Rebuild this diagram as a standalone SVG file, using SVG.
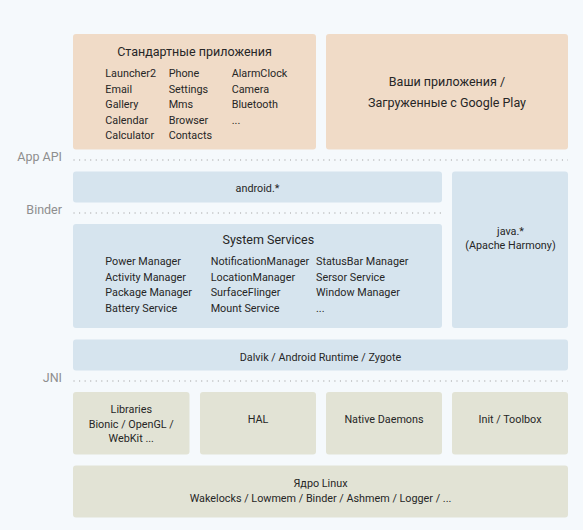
<svg xmlns="http://www.w3.org/2000/svg" width="583" height="530" viewBox="0 0 583 530">
<style>
text{font-family:Roboto,"Liberation Sans",sans-serif;fill:#262626}
.t{font-size:12.5px}
.s{font-size:10.8px}
.c{text-anchor:middle}
.lbl{font-size:12.5px;fill:#8e8e8e;text-anchor:end}
.app{fill:#f0dbc7}
.fw{fill:#d6e4ee}
.nat{fill:#e2e3d5}
.dot{stroke:#a0a0a0;stroke-width:1.1;stroke-dasharray:1.1 4.45;fill:none}
</style>
<rect width="583" height="530" fill="#f5f9fc"/>
<g id="std-apps">
<rect class="app" x="73" y="34" width="243" height="115.5" rx="3"/>
<text class="t c" x="194.5" y="55.5">Стандартные приложения</text>
<text class="s" x="105.3" y="77.3">Launcher2</text>
<text class="s" x="105.3" y="92.8">Email</text>
<text class="s" x="105.3" y="108.3">Gallery</text>
<text class="s" x="105.3" y="123.8">Calendar</text>
<text class="s" x="105.3" y="139.3">Calculator</text>
<text class="s" x="168.7" y="77.3">Phone</text>
<text class="s" x="168.7" y="92.8">Settings</text>
<text class="s" x="168.7" y="108.3">Mms</text>
<text class="s" x="168.7" y="123.8">Browser</text>
<text class="s" x="168.7" y="139.3">Contacts</text>
<text class="s" x="231.7" y="77.3">AlarmClock</text>
<text class="s" x="231.7" y="92.8">Camera</text>
<text class="s" x="231.7" y="108.3">Bluetooth</text>
<text class="s" x="231.7" y="123.8">...</text>
</g>
<g id="your-apps">
<rect class="app" x="326" y="34" width="242" height="115.5" rx="3"/>
<text class="t c" x="447" y="85.7">Ваши приложения /</text>
<text class="t c" x="447" y="107.2">Загруженные с Google Play</text>
</g>
<g id="connectors">
<line class="dot" x1="73.5" y1="160" x2="568" y2="160"/>
<line class="dot" x1="73.5" y1="213" x2="442" y2="213"/>
<line class="dot" x1="73.5" y1="381" x2="568" y2="381"/>
</g>
<g id="labels">
<text class="lbl" x="62" y="161">App API</text>
<text class="lbl" x="62" y="213.5">Binder</text>
<text class="lbl" x="62" y="382.3">JNI</text>
</g>
<g id="android">
<rect class="fw" x="73" y="171.5" width="369" height="31" rx="3"/>
<text class="s c" x="257.5" y="191.5">android.*</text>
</g>
<g id="system-services">
<rect class="fw" x="73" y="224" width="369" height="104" rx="3"/>
<text class="t c" x="268.3" y="244.3">System Services</text>
<text class="s" x="105.3" y="265">Power Manager</text>
<text class="s" x="105.3" y="280.6">Activity Manager</text>
<text class="s" x="105.3" y="296.2">Package Manager</text>
<text class="s" x="105.3" y="311.7">Battery Service</text>
<text class="s" x="210.7" y="265">NotificationManager</text>
<text class="s" x="210.7" y="280.6">LocationManager</text>
<text class="s" x="210.7" y="296.2">SurfaceFlinger</text>
<text class="s" x="210.7" y="311.7">Mount Service</text>
<text class="s" x="316" y="265">StatusBar Manager</text>
<text class="s" x="316" y="280.6">Sersor Service</text>
<text class="s" x="316" y="296.2">Window Manager</text>
<text class="s" x="316" y="311.7">...</text>
</g>
<g id="java">
<rect class="fw" x="452" y="171.5" width="116" height="156.5" rx="3"/>
<text class="s c" x="510.5" y="235">java.*</text>
<text class="s c" x="510.5" y="249">(Apache Harmony)</text>
</g>
<g id="dalvik">
<rect class="fw" x="73" y="339.5" width="495" height="31" rx="3"/>
<text class="s c" x="320.5" y="360.5">Dalvik / Android Runtime / Zygote</text>
</g>
<g id="libraries">
<rect class="nat" x="73" y="392" width="116.5" height="62.5" rx="3"/>
<text class="s c" x="131.3" y="413.3">Libraries</text>
<text class="s c" x="131.3" y="427.5">Bionic / OpenGL /</text>
<text class="s c" x="131.3" y="441.7">WebKit ...</text>
</g>
<g id="hal">
<rect class="nat" x="200" y="392" width="116" height="62.5" rx="3"/>
<text class="s c" x="258" y="423.3">HAL</text>
</g>
<g id="native-daemons">
<rect class="nat" x="326" y="392" width="116" height="62.5" rx="3"/>
<text class="s c" x="384" y="423.3">Native Daemons</text>
</g>
<g id="init">
<rect class="nat" x="452" y="392" width="116" height="62.5" rx="3"/>
<text class="s c" x="510" y="423.3">Init / Toolbox</text>
</g>
<g id="kernel">
<rect class="nat" x="73" y="465.5" width="495" height="52" rx="3"/>
<text class="s c" x="320.5" y="486.7">Ядро Linux</text>
<text class="s c" x="320.5" y="501.7">Wakelocks / Lowmem / Binder / Ashmem / Logger / ...</text>
</g>
</svg>
